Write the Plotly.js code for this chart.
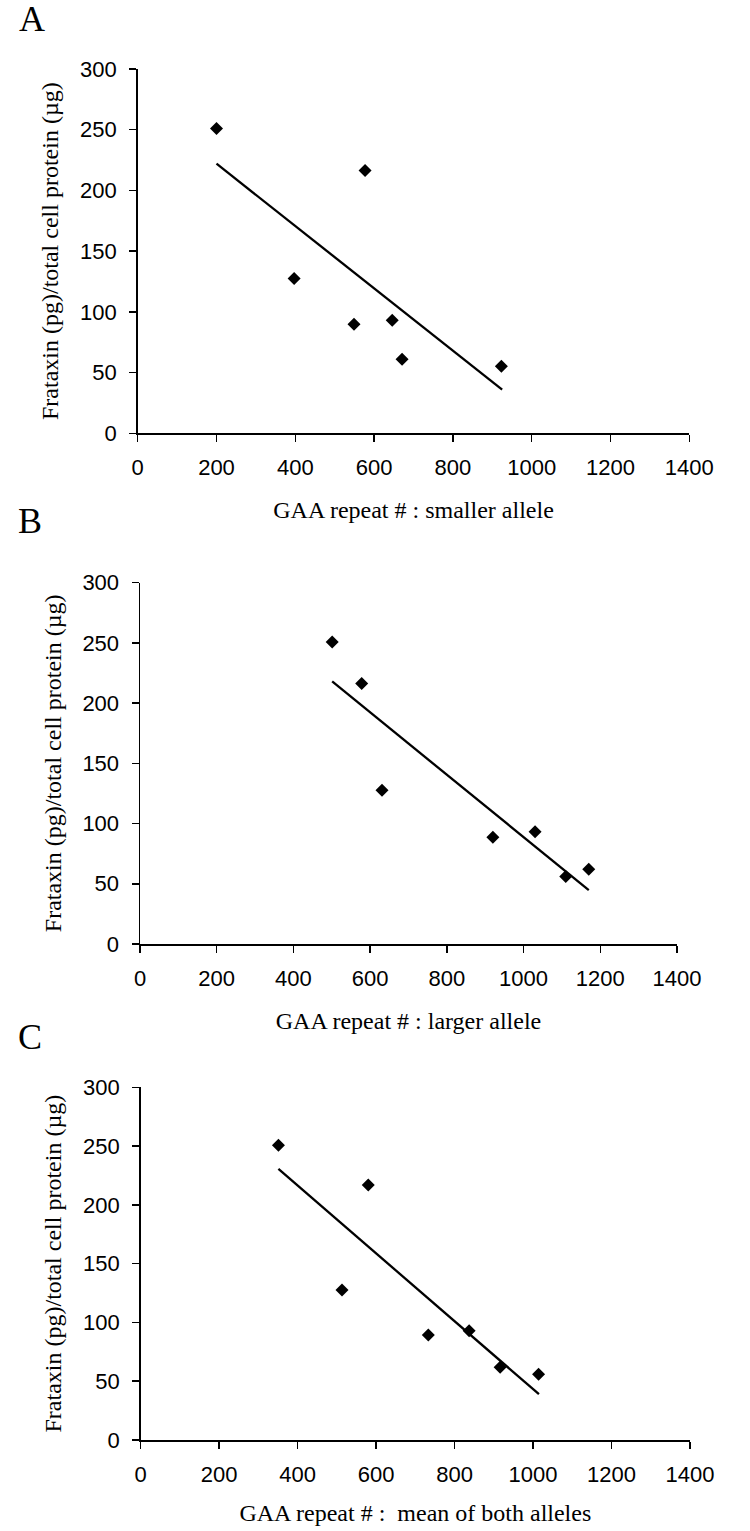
<!DOCTYPE html>
<html>
<head>
<meta charset="utf-8">
<script src="https://cdn.plot.ly/plotly-3.0.1.min.js"></script>
<style>html,body{margin:0;padding:0;background:#fff;}#chart{width:750px;height:1531px;}</style>
</head>
<body>
<div id="chart"></div>
<script>
// ---- Data ----
const xTickVals = [0, 200, 400, 600, 800, 1000, 1200, 1400];
const yTickVals = [0, 50, 100, 150, 200, 250, 300];

// Panel A: smaller allele
const smallerX = [200, 397, 549, 577, 646, 671, 923];
const smallerY = [251, 127.5, 89.8, 216.5, 93.1, 61, 55.2];
const smallerTrendX = [200, 925];
const smallerTrendY = [222, 36];

// Panel B: larger allele
const largerX = [501, 578, 631, 920, 1030, 1110, 1170];
const largerY = [250.7, 216.4, 127.7, 88.7, 93.2, 56, 62];
const largerTrendX = [501, 1170];
const largerTrendY = [218, 44.7];

// Panel C: mean of both alleles
const meanX = [351, 513, 580, 733, 837, 916, 1014];
const meanY = [250.7, 127.6, 217, 89.3, 93, 61.8, 55.9];
const meanTrendX = [351, 1015];
const meanTrendY = [230.6, 39];

const panelLetters = ['A', 'B', 'C'];
const xTitles = ['GAA repeat # : smaller allele', 'GAA repeat # : larger allele', 'GAA repeat # :  mean of both alleles'];
const yTitle = 'Frataxin (pg)/total cell protein (µg)';

// ---- Layout geometry (pixels) ----
const W = 750, H = 1531;
const panels = [
  {x0: 137.7, x1: 689.3, yTop: 69, yBot: 433.3, standoff: 22},
  {x0: 140.0, x1: 677.0, yTop: 582.7, yBot: 944.0, standoff: 22},
  {x0: 140.7, x1: 690.0, yTop: 1087.3, yBot: 1440.0, standoff: 18}
];
const letterPos = [{x: 32, y: 19}, {x: 30, y: 521}, {x: 30, y: 1037}];

const serif = 'Liberation Serif, Times New Roman, serif';
const sans = 'Liberation Sans, Arial, sans-serif';

const series = [
  [smallerX, smallerY, smallerTrendX, smallerTrendY],
  [largerX, largerY, largerTrendX, largerTrendY],
  [meanX, meanY, meanTrendX, meanTrendY]
];

const data = [];
const layout = {
  width: W, height: H,
  margin: {l: 0, r: 0, t: 0, b: 0},
  paper_bgcolor: '#fff', plot_bgcolor: '#fff',
  showlegend: false,
  annotations: []
};

series.forEach((s, i) => {
  const n = i === 0 ? '' : String(i + 1);
  data.push({x: s[0], y: s[1], type: 'scatter', mode: 'markers',
    xaxis: 'x' + n, yaxis: 'y' + n,
    marker: {symbol: 'diamond', size: 10, color: '#000'}, hoverinfo: 'x+y'});
  data.push({x: s[2], y: s[3], type: 'scatter', mode: 'lines',
    xaxis: 'x' + n, yaxis: 'y' + n,
    line: {color: '#000', width: 2.3}, hoverinfo: 'skip'});
  const p = panels[i];
  const common = {
    showline: true, linecolor: '#000', linewidth: 1.5,
    ticks: 'outside', ticklen: 7, tickwidth: 1.5, tickcolor: '#000',
    showgrid: false, zeroline: false, fixedrange: true,
    tickfont: {family: sans, size: 22, color: '#000'}
  };
  layout['xaxis' + n] = Object.assign({}, common, {
    domain: [p.x0 / W, p.x1 / W], anchor: 'y' + n,
    range: [0, 1400], tickmode: 'array', tickvals: xTickVals,
    ticklabelstandoff: 7,
    title: {text: xTitles[i], font: {family: serif, size: 24, color: '#000'}, standoff: p.standoff}
  });
  layout['yaxis' + n] = Object.assign({}, common, {
    domain: [1 - p.yBot / H, 1 - p.yTop / H], anchor: 'x' + n,
    range: [0, 300], tickmode: 'array', tickvals: yTickVals,
    ticklabelstandoff: 8,
    title: {text: yTitle, font: {family: serif, size: 24, color: '#000'}, standoff: 14}
  });
  layout.annotations.push({
    text: panelLetters[i], xref: 'paper', yref: 'paper',
    x: letterPos[i].x / W, y: 1 - letterPos[i].y / H,
    xanchor: 'center', yanchor: 'middle', showarrow: false,
    font: {family: serif, size: 36, color: '#000'}
  });
});

Plotly.newPlot('chart', data, layout, {displayModeBar: false, staticPlot: true});
</script>
</body>
</html>
